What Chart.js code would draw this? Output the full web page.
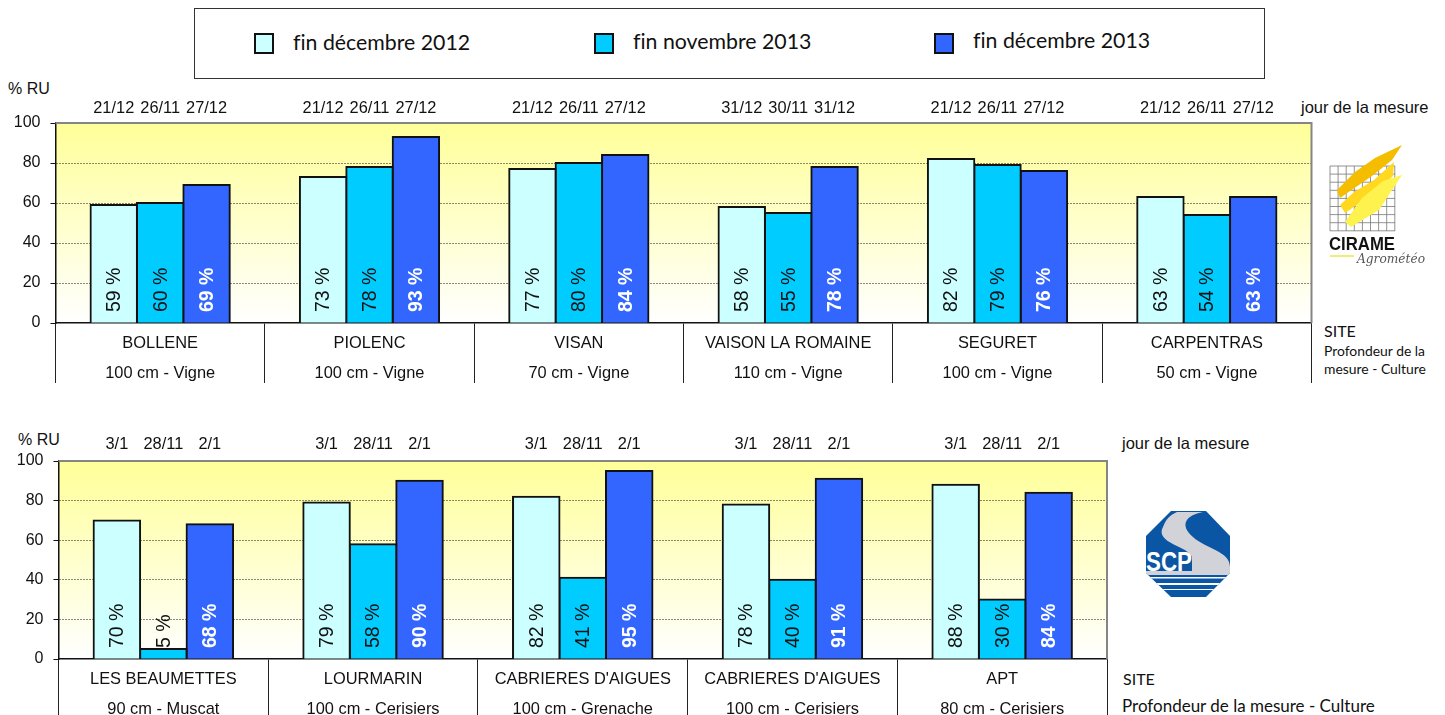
<!DOCTYPE html>
<html lang="fr">

<head>
  <meta charset="UTF-8">
  <script src="https://cdn.jsdelivr.net/npm/chart.js"></script>
  <style>
    body { margin: 0; background: #fff; width: 1445px; height: 715px; overflow: hidden; position: relative; font-family: "Liberation Sans", Arial, sans-serif; color: #111; }
    canvas { position: absolute; left: 0; }
    .txt { position: absolute; white-space: nowrap; font-size: 16.5px; line-height: 18px; }
    .cal { font-family: Lato, "Noto Sans", sans-serif; color: #111; font-variant-ligatures: none; }
    #legend { position: absolute; left: 194px; top: 8px; width: 1069px; height: 69px; border: 1px solid #333; }
    .swatch { position: absolute; width: 20px; height: 21px; border: 2px solid #111; box-sizing: border-box; top: 24px; }
    .legtxt { position: absolute; font-family: Lato, "Noto Sans", sans-serif; font-size: 21.3px; line-height: 24px; white-space: nowrap; font-variant-ligatures: none; }
    svg { position: absolute; }
  </style>
</head>

<body>
  <div id="legend"></div>

  <div class="txt" style="left:8px;top:80px;font-size:16px">% RU</div>
  <div class="txt" style="left:1301px;top:98px">jour de la mesure</div>
  <div class="txt cal" style="left:1324px;top:322px;font-size:16px">SITE</div>
  <div class="txt cal" style="left:1324px;top:342px;font-size:13.9px">Profondeur de la</div>
  <div class="txt cal" style="left:1324px;top:360px;font-size:13.9px">mesure - Culture</div>

  <div class="txt" style="left:18px;top:431px;font-size:16px">% RU</div>
  <div class="txt" style="left:1122px;top:434px">jour de la mesure</div>
  <div class="txt cal" style="left:1123px;top:670px;font-size:16px">SITE</div>
  <div class="txt cal" style="left:1122px;top:697px;font-size:17px">Profondeur de la mesure - Culture</div>

  <canvas id="chartTop" width="1445" height="390" style="top:0"></canvas>
  <canvas id="chartBottom" width="1445" height="315" style="top:400px"></canvas>

  <!-- logo cirame -->
  <svg style="left:1325px;top:140px" width="110" height="135" viewBox="1325 140 110 135">
    <g stroke="#777" stroke-width="0.8" id="cirameGrid"></g>
    <polygon points="1337,190 1340,198 1372,176 1392,160 1402,145 1375,158 1355,172" fill="#f4bd00" />
    <polygon points="1340,205 1345,213 1376,192 1393,176 1394,162 1374,180 1354,192" fill="#ffd81f" />
    <polygon points="1345,222 1351,227 1379,210 1402,175 1383,181 1362,198" fill="#fdf24e" />
    <text x="1329" y="250" font-family="Liberation Sans" font-weight="bold" font-size="17.5" fill="#111" textLength="66" lengthAdjust="spacingAndGlyphs">CIRAME</text>
    <path d="M1330 256 H1354" stroke="#e8e84a" stroke-width="1.5" />
    <text x="1357" y="263" font-family="DejaVu Serif" font-style="italic" font-size="12" fill="#555" textLength="68" lengthAdjust="spacingAndGlyphs">Agrométéo</text>
  </svg>

  <!-- logo scp -->
  <svg style="left:1146px;top:511px" width="84" height="86" viewBox="0 0 84 86">
    <clipPath id="octo"><polygon points="25,0 60,0 84,25 84,62 60,86 25,86 0,62 0,25" /></clipPath>
    <g clip-path="url(#octo)">
      <rect width="84" height="86" fill="#0b56a4" />
      <path d="M31 1 L57 1 C40 4 33 14 47 26 C60 38 84 40 84 56 V64 H0 V60 H46 V46 C44 36 8 32 17 16 C20 8 24 4 31 1 Z" fill="#d2d3d8" />
      <rect y="66" width="84" height="1.5" fill="#fff" />
      <rect y="72" width="84" height="2" fill="#fff" />
      <rect y="78" width="84" height="1" fill="#fff" />
      <text x="0" y="60" font-family="Liberation Sans" font-weight="bold" font-size="27" fill="#fff" textLength="46" lengthAdjust="spacingAndGlyphs">SCP</text>
    </g>
  </svg>

  <script>
    const seriesNames = ['fin décembre 2012', 'fin novembre 2013', 'fin décembre 2013'];
    const seriesColors = ['#CCFFFF', '#00CCFF', '#3366FF'];
    const yTicks = [0, 20, 40, 60, 80, 100];

    // graphique du haut
    const sitesTop = ['BOLLENE', 'PIOLENC', 'VISAN', 'VAISON LA ROMAINE', 'SEGURET', 'CARPENTRAS'];
    const depthsTop = ['100 cm - Vigne', '100 cm - Vigne', '70 cm - Vigne', '110 cm - Vigne', '100 cm - Vigne', '50 cm - Vigne'];
    const dec2012Top = [59, 73, 77, 58, 82, 63];
    const nov2013Top = [60, 78, 80, 55, 79, 54];
    const dec2013Top = [69, 93, 84, 78, 76, 63];
    const datesDec2012Top = ['21/12', '21/12', '21/12', '31/12', '21/12', '21/12'];
    const datesNov2013Top = ['26/11', '26/11', '26/11', '30/11', '26/11', '26/11'];
    const datesDec2013Top = ['27/12', '27/12', '27/12', '31/12', '27/12', '27/12'];

    // graphique du bas
    const sitesBottom = ['LES BEAUMETTES', 'LOURMARIN', "CABRIERES D'AIGUES", "CABRIERES D'AIGUES", 'APT'];
    const depthsBottom = ['90 cm - Muscat', '100 cm - Cerisiers', '100 cm - Grenache', '100 cm - Cerisiers', '80 cm - Cerisiers'];
    const dec2012Bottom = [70, 79, 82, 78, 88];
    const nov2013Bottom = [5, 58, 41, 40, 30];
    const dec2013Bottom = [68, 90, 95, 91, 84];
    const datesDec2012Bottom = ['3/1', '3/1', '3/1', '3/1', '3/1'];
    const datesNov2013Bottom = ['28/11', '28/11', '28/11', '28/11', '28/11'];
    const datesDec2013Bottom = ['2/1', '2/1', '2/1', '2/1', '2/1'];

    // legende
    const legend = document.getElementById('legend');
    const swatchLeft = [59, 399, 739];
    const textLeft = [98, 438, 778];
    const textTop = [21, 20, 19];
    seriesNames.forEach((name, i) => {
      const sw = document.createElement('span');
      sw.className = 'swatch';
      sw.style.left = swatchLeft[i] + 'px';
      sw.style.background = seriesColors[i];
      legend.appendChild(sw);
      const t = document.createElement('span');
      t.className = 'legtxt';
      t.style.left = textLeft[i] + 'px';
      t.style.top = textTop[i] + 'px';
      t.textContent = name;
      legend.appendChild(t);
    });

    // grille du logo
    const grid = document.getElementById('cirameGrid');
    for (let i = 0; i <= 8; i++) {
      const p = 8.1 * i;
      grid.innerHTML += `<path d="M${1330 + p} 166 V231 M1330 ${166 + p} H1395" />`;
    }

    const plotDecor = {
      id: 'plotDecor',
      beforeDraw(chart) {
        const { ctx, chartArea: a } = chart;
        const g = ctx.createLinearGradient(0, a.top, 0, a.bottom);
        g.addColorStop(0, '#FFFF99');
        g.addColorStop(1, '#FFFFFF');
        ctx.fillStyle = g;
        ctx.fillRect(a.left, a.top, a.right - a.left, a.bottom - a.top);
      },
      beforeDatasetsDraw(chart) {
        const { ctx, chartArea: a } = chart;
        ctx.save();
        ctx.strokeStyle = '#858585';
        ctx.lineWidth = 2;
        ctx.beginPath();
        ctx.moveTo(a.left, a.top);
        ctx.lineTo(a.right, a.top);
        ctx.lineTo(a.right, a.bottom);
        ctx.stroke();
        ctx.restore();
      },
      afterDatasetsDraw(chart, args, opts) {
        const { ctx, chartArea: a } = chart;
        chart.data.datasets.forEach((ds, d) => {
          const meta = chart.getDatasetMeta(d);
          meta.data.forEach((bar, i) => {
            // date au dessus
            ctx.save();
            ctx.font = '16.4px "Liberation Sans"';
            ctx.fillStyle = '#111';
            ctx.textAlign = 'center';
            ctx.textBaseline = 'middle';
            ctx.fillText(ds.dates[i], bar.x, opts.dateY);
            // valeur dans la barre
            ctx.translate(bar.x, a.bottom - 11);
            ctx.rotate(-Math.PI / 2);
            ctx.textAlign = 'left';
            ctx.font = (d === 2 ? 'bold ' : '') + '19.5px "Liberation Sans"';
            ctx.fillStyle = d === 2 ? '#fff' : '#111';
            ctx.fillText(ds.data[i] + ' %', 0, 1);
            ctx.restore();
          });
        });
      }
    };

    function makeChart(id, sites, depths, series, dates, box) {
      return new Chart(document.getElementById(id), {
        type: 'bar',
        plugins: [plotDecor],
        data: {
          labels: sites.map((s, i) => [s, depths[i]]),
          datasets: series.map((values, i) => ({
            label: seriesNames[i],
            data: values,
            dates: dates[i],
            backgroundColor: seriesColors[i],
            borderColor: '#111',
            borderWidth: 2,
            inflateAmount: 1,
            categoryPercentage: 0.665,
            barPercentage: 1
          }))
        },
        options: {
          responsive: false,
          animation: false,
          layout: { padding: { left: 0, top: box.top, right: 1445 - box.right, bottom: 0 } },
          plugins: {
            legend: { display: false },
            tooltip: { enabled: false },
            plotDecor: { dateY: box.dateY }
          },
          scales: {
            x: {
              offset: true,
              afterFit(scale) { scale.height = box.axisH; },
              grid: { drawOnChartArea: false, tickLength: box.tick, tickColor: '#222', tickWidth: 1 },
              border: { color: '#111', width: 1.5 },
              ticks: {
                autoSkip: false,
                maxRotation: 0,
                padding: box.labelPad,
                color: '#111',
                font: { family: 'Liberation Sans', size: 16.4, lineHeight: '30px' }
              }
            },
            y: {
              min: 0,
              max: 100,
              afterFit(scale) { scale.width = box.left; },
              afterBuildTicks(scale) { scale.ticks = yTicks.map((v) => ({ value: v })); },
              grid: {
                color: (c) => (c.tick.value === 0 || c.tick.value === 100 ? 'transparent' : '#111'),
                tickColor: '#111',
                tickLength: 5,
                tickBorderDash: [],
                lineWidth: 1
              },
              border: { color: '#111', width: 1.5, dash: [1, 2] },
              ticks: { padding: 10, color: '#111', font: { family: 'Liberation Sans', size: 16 } }
            }
          }
        }
      });
    }

    makeChart('chartTop', sitesTop, depthsTop,
      [dec2012Top, nov2013Top, dec2013Top],
      [datesDec2012Top, datesNov2013Top, datesDec2013Top],
      { left: 55.5, top: 123, right: 1311.5, axisH: 67, tick: 60, labelPad: -54.5, dateY: 108 });

    makeChart('chartBottom', sitesBottom, depthsBottom,
      [dec2012Bottom, nov2013Bottom, dec2013Bottom],
      [datesDec2012Bottom, datesNov2013Bottom, datesDec2013Bottom],
      { left: 58.5, top: 61, right: 1107, axisH: 56, tick: 56, labelPad: -51, dateY: 44 });
  </script>
</body>

</html>
